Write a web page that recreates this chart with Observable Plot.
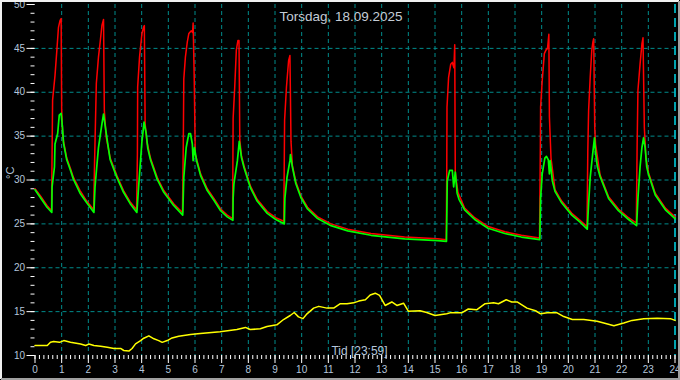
<!DOCTYPE html>
<html>
<head>
<meta charset="utf-8">
<script src="https://cdn.jsdelivr.net/npm/d3@7"></script>
<script src="https://cdn.jsdelivr.net/npm/@observablehq/plot@0.6"></script>
<style>
  html, body { margin: 0; padding: 0; background: #000; }
  svg { display: block; }
</style>
</head>
<body>
<div id="chart"></div>
<script>
const titleText = "Torsdag, 18.09.2025";
const xLabelText = "Tid [23:59]";
const yLabelText = "°C";

const xTicks = [0,1,2,3,4,5,6,7,8,9,10,11,12,13,14,15,16,17,18,19,20,21,22,23,24];
const xGridTicks = [1,2,3,4,5,6,7,8,9,10,11,12,13,14,15,16,17,18,19,20,21,22,23];
const xMinorTicks = d3.range(0, 24 * 6 + 1).map(i => i / 6);
const yTicks = [10,15,20,25,30,35,40,45,50];
const yGridTicks = [15,20,25,30,35,40,45];
const yMinorTicks = d3.range(10, 51);
const cursorTime = [24];

// [hour, °C]
const red = [
  [0,29.0],[0.2,28.2],[0.45,27.1],[0.62,26.5],
  [0.64,33.0],[0.66,39.1],[0.75,41.9],[0.82,44.8],[0.88,47.4],[0.94,48.2],[0.98,48.4],[1.0,38.0],[1.04,35.0],[1.07,34.4],[1.19,32.5],[1.32,31.4],[1.44,30.3],[1.69,28.8],[1.94,27.6],[2.2,26.6],
  [2.23,31.5],[2.3,41.0],[2.38,44.0],[2.45,45.9],[2.51,47.6],[2.57,48.3],[2.6,37.9],[2.67,34.9],[2.82,32.5],[3.07,30.5],[3.32,28.8],[3.57,27.5],[3.81,26.6],
  [3.84,33.0],[3.85,40.6],[3.92,44.0],[4.01,46.7],[4.07,47.4],[4.1,47.6],[4.13,36.4],[4.2,34.3],[4.33,32.5],[4.58,30.3],[4.83,28.8],[5.2,27.3],[5.53,26.3],
  [5.56,33.7],[5.58,41.5],[5.64,44.0],[5.71,45.7],[5.77,46.7],[5.86,47.0],[5.91,46.8],[5.93,47.9],[5.97,41.7],[6.01,32.9],[6.06,32.4],[6.21,30.7],[6.46,29.0],[6.71,27.9],[6.96,26.7],[7.21,26.0],[7.41,25.6],
  [7.43,37.0],[7.49,40.6],[7.55,44.8],[7.61,45.9],[7.65,45.9],[7.68,34.6],[7.74,32.8],[7.84,31.6],[8.08,29.3],[8.33,27.8],[8.71,26.4],[9.03,25.7],[9.33,25.3],
  [9.36,36.8],[9.43,40.6],[9.51,43.6],[9.56,44.2],[9.6,34.4],[9.65,31.7],[9.78,29.8],[9.97,28.2],[10.22,26.9],[10.6,25.8],[11.1,25.0],[11.73,24.4],[12.6,23.9],[13.86,23.5],[15.11,23.3],[15.42,23.2],
  [15.44,30.2],[15.45,38.3],[15.51,41.7],[15.59,43.2],[15.65,43.4],[15.71,42.8],[15.74,45.4],[15.76,31.0],[15.8,29.9],[15.86,28.6],[16.11,26.8],[16.49,25.7],[16.99,24.7],[17.62,24.1],[18.24,23.7],[18.92,23.4],
  [18.95,33.6],[18.96,38.3],[19.02,41.3],[19.1,44.4],[19.16,44.8],[19.22,45.0],[19.27,46.6],[19.29,37.2],[19.35,32.5],[19.5,28.9],[19.75,27.6],[20.13,26.2],[20.44,25.4],[20.7,24.7],
  [20.73,33.2],[20.76,37.9],[20.82,41.7],[20.88,44.8],[20.92,45.7],[20.95,46.1],[20.99,36.0],[21.02,34.1],[21.19,30.6],[21.51,28.1],[21.88,26.7],[22.26,25.7],[22.55,25.1],
  [22.58,34.0],[22.61,40.2],[22.69,43.2],[22.76,45.5],[22.8,46.2],[22.85,36.0],[22.91,32.5],[23.01,30.8],[23.26,28.5],[23.64,26.8],[24,25.8]
];

const green = [
  [0,28.9],[0.2,28.0],[0.45,26.9],[0.63,26.3],
  [0.64,29.2],[0.73,31.5],[0.75,34.1],[0.85,35.3],[0.91,37.4],[0.98,37.6],[1.03,36.0],[1.07,34.2],[1.19,32.3],[1.32,31.2],[1.44,30.1],[1.69,28.5],[1.94,27.4],[2.21,26.3],
  [2.25,29.2],[2.38,33.7],[2.51,36.4],[2.57,37.5],[2.64,36.0],[2.72,34.3],[2.82,32.3],[3.07,30.3],[3.32,28.6],[3.57,27.3],[3.82,26.3],
  [3.88,29.0],[4.01,34.4],[4.09,36.6],[4.17,35.3],[4.23,33.6],[4.33,32.3],[4.58,30.1],[4.83,28.6],[5.2,27.1],[5.54,26.0],
  [5.58,30.3],[5.67,33.7],[5.77,35.3],[5.83,35.3],[5.9,34.1],[5.93,32.2],[5.98,33.7],[6.06,32.2],[6.21,30.5],[6.46,28.8],[6.71,27.7],[6.96,26.5],[7.21,25.8],[7.42,25.4],
  [7.43,27.9],[7.46,29.6],[7.59,32.2],[7.66,34.4],[7.74,32.6],[7.84,31.4],[8.08,29.1],[8.33,27.6],[8.71,26.2],[9.03,25.5],[9.35,25.0],
  [9.37,27.9],[9.45,30.3],[9.56,32.2],[9.58,32.9],[9.65,31.5],[9.78,29.6],[9.97,28.0],[10.22,26.7],[10.6,25.6],[11.1,24.8],[11.73,24.2],[12.6,23.7],[13.86,23.3],[15.11,23.1],[15.43,23.0],
  [15.46,29.9],[15.55,31.1],[15.65,31.1],[15.7,29.2],[15.76,30.9],[15.83,28.5],[15.9,27.8],[16.11,26.6],[16.49,25.5],[16.99,24.5],[17.62,23.9],[18.24,23.5],[18.93,23.2],
  [18.96,27.9],[19.02,30.7],[19.12,32.5],[19.18,32.7],[19.25,32.3],[19.29,30.7],[19.32,32.2],[19.4,29.9],[19.5,28.7],[19.75,27.4],[20.13,26.0],[20.44,25.2],[20.71,24.4],
  [20.76,27.3],[20.82,30.3],[20.91,32.9],[20.98,34.8],[21.02,33.2],[21.09,31.5],[21.19,30.4],[21.51,27.9],[21.88,26.5],[22.26,25.5],[22.56,24.8],
  [22.61,27.9],[22.69,31.5],[22.76,33.7],[22.82,34.8],[22.88,33.7],[22.94,31.5],[23.01,30.6],[23.26,28.3],[23.64,26.6],[24,25.6]
];

const yellow = [
  [0,11.14],[0.46,11.14],[0.58,11.5],[0.7,11.6],[0.92,11.5],[1.08,11.7],[1.33,11.5],[1.71,11.3],[1.9,11.14],[2.02,11.3],[2.21,11.15],[2.46,11.06],[2.71,10.95],[2.96,10.8],[3.21,10.8],[3.33,10.57],[3.52,10.5],[3.64,10.8],[3.77,11.33],[3.96,11.7],[4.08,11.97],[4.27,12.24],[4.46,11.9],[4.64,11.7],[4.77,11.5],[4.96,11.7],[5.14,12.0],[5.39,12.2],[5.83,12.4],[6.2,12.5],
  [6.94,12.7],[7.57,12.96],[7.89,13.2],[8.07,12.96],[8.45,13.04],[8.7,13.3],[9.07,13.5],[9.32,14.1],[9.57,14.56],[9.72,14.9],[9.88,14.4],[10.05,14.2],[10.2,14.75],[10.45,15.4],[10.64,15.6],[10.95,15.4],[11.2,15.4],[11.45,15.9],[11.7,15.9],[11.95,16.0],[12.14,16.2],[12.39,16.35],[12.57,16.9],[12.76,17.1],[12.92,16.85],[13.13,15.7],[13.38,16.1],[13.57,15.7],[13.82,15.96],[14.0,15.05],[14.44,15.1],[14.69,14.9],[15.0,14.56],[15.44,14.75],
  [15.56,14.86],[16.0,14.86],[16.25,15.3],[16.56,15.2],[16.88,15.9],[17.2,16.0],[17.38,15.9],[17.67,16.35],[17.88,16.1],[18.08,16.1],[18.45,15.4],[18.77,15.1],[18.96,14.75],[19.21,14.86],[19.58,14.86],[19.83,14.44],[20.15,14.1],[20.58,14.1],[21.08,13.9],[21.33,13.7],[21.71,13.4],[22.08,13.7],[22.39,14.0],[22.83,14.2],[23.33,14.25],[23.83,14.2],[24,14.0]
];

const gridColor = "#008b8b";
const textColor = "#b4c6dc";
const font = "'Liberation Sans', Arial, sans-serif";

const svg = Plot.plot({
  width: 680,
  height: 380,
  marginLeft: 34.5,
  marginRight: 5.5,
  marginTop: 4,
  marginBottom: 25,
  style: { background: "#000", color: textColor, fontFamily: font, fontSize: "10px" },
  x: { domain: [0, 24] },
  y: { domain: [10, 50] },
  marks: [
    Plot.gridX(xGridTicks, { stroke: gridColor, strokeOpacity: 1, strokeDasharray: "4,3" }),
    Plot.gridY(yGridTicks, { stroke: gridColor, strokeOpacity: 1, strokeDasharray: "4,3" }),
    Plot.ruleX(cursorTime, { stroke: "#00d8e8", strokeWidth: 1.5, strokeDasharray: "9,5" }),
    Plot.axisX(xTicks, { anchor: "bottom", tickSize: 8, tickPadding: 2, stroke: "white", label: null, fontSize: 10 }),
    Plot.axisX(xMinorTicks, { anchor: "bottom", tickSize: 4, tickFormat: () => "", stroke: "white", label: null }),
    Plot.axisY(yTicks, { anchor: "left", tickSize: 8, tickPadding: 2, stroke: "white", label: null, fontSize: 10 }),
    Plot.axisY(yMinorTicks, { anchor: "left", tickSize: 4, tickFormat: () => "", stroke: "white", label: null }),
    Plot.line(yellow, { x: d => d[0], y: d => d[1], stroke: "#ffff00", strokeWidth: 1.5 }),
    Plot.line(red, { x: d => d[0], y: d => d[1], stroke: "#ff0000", strokeWidth: 1.5 }),
    Plot.line(green, { x: d => d[0], y: d => d[1], stroke: "#00ff00", strokeWidth: 1.7 }),
    Plot.text([titleText], { frameAnchor: "top", dy: 6.5, dx: -14, fill: "#c4ccd6", fontSize: 13.5 }),
    Plot.text([xLabelText], { frameAnchor: "bottom", dy: -1, dx: 4.5, fill: textColor, fontSize: 12 }),
    Plot.text([yLabelText], { frameAnchor: "left", dx: -24.5, dy: -1, rotate: -90, fill: textColor, fontSize: 11 })
  ]
});

const s = d3.select(svg);
s.append("path").attr("d", "M1,379 L1,1 L679,1").attr("fill", "none").attr("stroke", "#f0f0f0").attr("stroke-width", 2);
s.append("path").attr("d", "M1,379 L679,379 L679,1").attr("fill", "none").attr("stroke", "#a0a0a0").attr("stroke-width", 2);

document.getElementById("chart").appendChild(svg);
</script>
</body>
</html>
